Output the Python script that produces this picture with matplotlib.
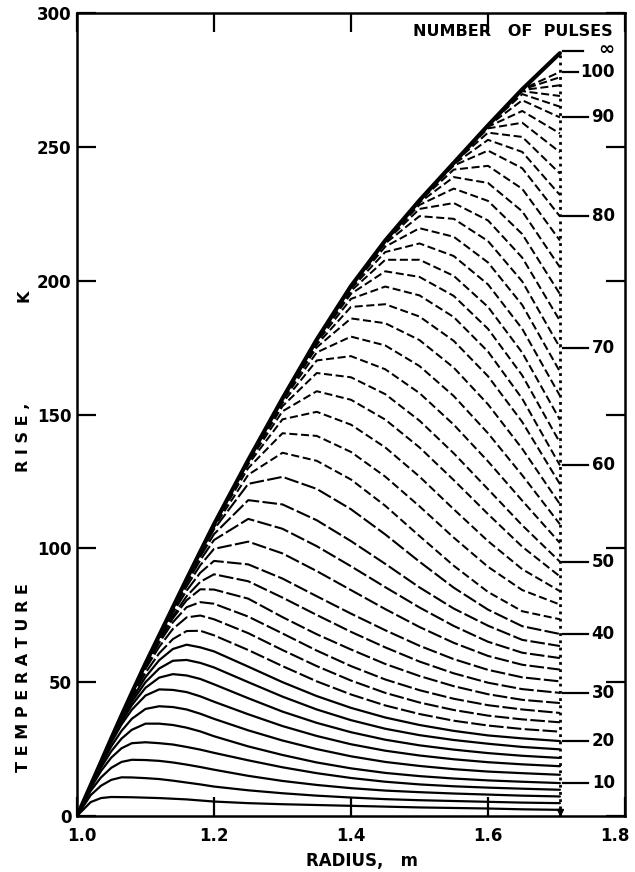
import matplotlib
matplotlib.use("Agg")
import matplotlib.pyplot as plt
import matplotlib.transforms as mtransforms

plt.rcParams['font.family'] = ['DejaVu Sans']
plt.rcParams['font.weight'] = 'bold'

# ---------------- data ----------------
# radii (m) at which each curve was read off the picture
RADIUS = [1.00, 1.02, 1.035, 1.05, 1.065, 1.08, 1.10, 1.12, 1.14, 1.16, 1.18,
          1.20, 1.25, 1.30, 1.35, 1.40, 1.45, 1.50, 1.55, 1.60, 1.65, 1.705]

# steady-state (infinite number of pulses) temperature rise, K
ENVELOPE = [0, 11.5, 20.2, 29, 37.6, 46, 57.0, 67.5, 78.0, 88.5, 98.8,
            109, 133, 156, 178, 198, 215, 230, 244, 258, 271.5, 285]

PULSES = [2, 4, 6, 8, 10, 12, 14, 16, 18, 20, 22, 24, 26, 28, 30, 32, 34, 36,
          38, 40, 42, 44, 46, 48, 50, 52, 54, 56, 58, 60, 62, 64, 66, 68, 70,
          72, 74, 76, 78, 80, 82, 84, 86, 88, 90, 92, 94, 96, 98, 100]

# temperature rise (K) of each curve at the radii above
CURVES = [
    [0, 5.2, 6.7, 7.1, 7.05, 7.0, 6.85, 6.7, 6.45, 6.2, 5.8, 5.4, 4.8, 4.4, 4.1, 3.8, 3.5, 3.2, 3.0, 2.8, 2.5, 2.3],
    [0, 7.8, 11.3, 13.5, 14.45, 14.4, 14.15, 13.8, 13.2, 12.5, 11.8, 11.0, 9.6, 8.5, 7.6, 6.9, 6.3, 5.9, 5.6, 5.3, 5.0, 4.8],
    [0, 9.4, 14.4, 18.0, 20.2, 21.0, 20.9, 20.6, 20.0, 19.2, 18.3, 17.3, 15.0, 13.1, 11.6, 10.4, 9.5, 8.9, 8.4, 8.0, 7.6, 7.3],
    [0, 10.4, 16.8, 21.8, 25.3, 27.2, 27.55, 27.2, 26.7, 25.8, 24.8, 23.6, 20.8, 18.2, 16.0, 14.2, 12.8, 11.8, 11.1, 10.6, 10.2, 9.8],
    [0, 10.9, 18.1, 24.2, 28.9, 32.2, 34.5, 34.5, 34.0, 33.0, 31.6, 29.8, 26.0, 22.8, 20.0, 17.8, 16.1, 14.9, 14.0, 13.3, 12.8, 12.3],
    [0, 11.2, 19.0, 26.0, 31.8, 36.3, 40.0, 41.0, 40.7, 39.8, 38.2, 36.3, 32.0, 28.2, 25.0, 22.3, 20.2, 18.7, 17.5, 16.6, 16.0, 15.4],
    [0, 11.4, 19.65, 27.4, 34.2, 39.7, 45.0, 47.3, 47.1, 46.3, 44.7, 42.7, 38.0, 33.6, 29.9, 26.8, 24.4, 22.6, 21.2, 20.1, 19.3, 18.6],
    [0, 11.4, 19.85, 27.9, 35.2, 41.4, 47.9, 51.7, 53.0, 52.5, 51.2, 49.2, 44.0, 39.0, 34.8, 31.3, 28.5, 26.4, 24.8, 23.5, 22.5, 21.7],
    [0, 11.45, 19.95, 28.2, 35.8, 42.6, 50.0, 55.1, 58.0, 58.3, 57.2, 55.5, 50.0, 44.6, 39.8, 35.8, 32.6, 30.2, 28.4, 27.0, 25.8, 24.9],
    [0, 11.5, 20.05, 28.5, 36.4, 43.6, 51.9, 58.2, 62.4, 64.0, 63.0, 61.5, 55.8, 50.0, 44.8, 40.4, 36.8, 34.0, 31.8, 30.1, 29.0, 28.0],
    [0, 11.5, 20.1, 28.7, 36.9, 44.5, 53.5, 60.8, 66.1, 69.1, 69.2, 67.5, 62.0, 56.0, 50.3, 45.4, 41.3, 38.1, 35.6, 33.8, 32.5, 31.5],
    [0, 11.5, 20.15, 28.9, 37.3, 45.2, 55.0, 63.2, 69.9, 74.2, 74.9, 73.5, 68.3, 62.0, 56.0, 50.6, 46.0, 42.4, 39.6, 37.5, 36.1, 35.0],
    [0, 11.5, 20.2, 29.0, 37.45, 45.6, 55.8, 64.7, 72.4, 78.0, 79.9, 79.3, 74.5, 68.2, 61.8, 56.0, 51.0, 47.0, 43.8, 41.4, 39.8, 38.5],
    [0, 11.5, 20.2, 29.0, 37.5, 45.7, 56.2, 65.6, 73.9, 80.6, 84.7, 84.6, 81.2, 74.3, 67.9, 62.2, 56.8, 52.3, 48.5, 45.5, 43.4, 42.2],
    [0, 11.5, 20.2, 29.0, 37.5, 45.8, 56.3, 65.9, 74.6, 82.1, 87.5, 90.3, 87.7, 81.6, 75.1, 68.8, 63.0, 57.7, 53.3, 49.8, 47.4, 46.0],
    [0, 11.5, 20.2, 29.0, 37.5, 46.0, 56.6, 66.5, 75.9, 84.2, 90.9, 95.3, 94.0, 88.7, 82.1, 75.6, 69.4, 63.6, 58.6, 54.6, 51.8, 50.3],
    [0, 11.5, 20.2, 29.0, 37.55, 46.0, 56.8, 67.0, 76.7, 85.8, 93.7, 99.8, 102.5, 98.1, 91.5, 84.4, 77.3, 70.6, 64.7, 59.8, 56.5, 54.7],
    [0, 11.5, 20.2, 29.0, 37.6, 46.0, 56.9, 67.2, 77.3, 86.9, 95.6, 103.1, 111.0, 107.3, 100.8, 93.3, 85.5, 77.9, 71.0, 65.1, 61.0, 59.0],
    [0, 11.5, 20.2, 29.0, 37.6, 46.0, 57.0, 67.4, 77.6, 87.6, 96.9, 105.3, 118.0, 116.4, 110.5, 102.7, 94.2, 85.4, 77.5, 71.1, 65.8, 63.5],
    [0, 11.5, 20.2, 29.0, 37.6, 46.0, 57.0, 67.4, 77.8, 88.1, 97.8, 107.1, 124.1, 126.7, 122.2, 114.6, 105.2, 95.0, 85.3, 77.1, 70.9, 68.0],
    [0, 11.5, 20.2, 29.0, 37.6, 46.0, 57.0, 67.5, 77.9, 88.3, 98.3, 107.9, 127.5, 135.7, 132.7, 125.7, 115.9, 104.6, 93.5, 83.7, 76.5, 73.5],
    [0, 11.5, 20.2, 29.0, 37.6, 46.0, 57.0, 67.5, 78.0, 88.4, 98.6, 108.5, 130.0, 143.0, 142.0, 136.0, 126.8, 115.7, 104.0, 93.1, 84.4, 79.0],
    [0, 11.5, 20.2, 29.0, 37.6, 46.0, 57.0, 67.5, 78.0, 88.5, 98.7, 108.8, 131.4, 148.2, 151.0, 146.2, 137.7, 126.8, 114.6, 102.7, 92.2, 84.0],
    [0, 11.5, 20.2, 29.0, 37.6, 46.0, 57.0, 67.5, 78.0, 88.5, 98.8, 109.0, 132.1, 151.2, 158.7, 155.5, 148.1, 137.7, 125.5, 112.8, 100.6, 89.5],
    [0, 11.5, 20.2, 29.0, 37.6, 46.0, 57.0, 67.5, 78.0, 88.5, 98.8, 109.0, 132.5, 153.1, 165.5, 163.9, 157.6, 147.7, 135.5, 122.1, 108.6, 95.0],
    [0, 11.5, 20.2, 29.0, 37.6, 46.0, 57.0, 67.5, 78.0, 88.5, 98.8, 109.0, 133.0, 154.3, 170.2, 171.8, 166.9, 158.0, 146.2, 132.5, 117.8, 102.0],
    [0, 11.5, 20.2, 29.0, 37.6, 46.0, 57.0, 67.5, 78.0, 88.5, 98.8, 109.0, 133.0, 155.1, 173.2, 179.1, 175.8, 168.1, 156.9, 143.0, 127.3, 109.0],
    [0, 11.5, 20.2, 29.0, 37.6, 46.0, 57.0, 67.5, 78.0, 88.5, 98.8, 109.0, 133.0, 155.5, 175.1, 185.9, 184.1, 177.8, 167.5, 153.8, 137.2, 116.5],
    [0, 11.5, 20.2, 29.0, 37.6, 46.0, 57.0, 67.5, 78.0, 88.5, 98.8, 109.0, 133.0, 155.8, 176.1, 190.2, 191.2, 186.6, 177.5, 164.3, 147.2, 124.0],
    [0, 11.5, 20.2, 29.0, 37.6, 46.0, 57.0, 67.5, 78.0, 88.5, 98.8, 109.0, 133.0, 156.0, 176.9, 193.2, 197.8, 194.5, 186.4, 173.5, 155.9, 131.0],
    [0, 11.5, 20.2, 29.0, 37.6, 46.0, 57.0, 67.5, 78.0, 88.5, 98.8, 109.0, 133.0, 156.0, 177.4, 195.1, 203.5, 201.4, 194.3, 182.0, 164.6, 139.5],
    [0, 11.5, 20.2, 29.0, 37.6, 46.0, 57.0, 67.5, 78.0, 88.5, 98.8, 109.0, 133.0, 156.0, 177.8, 196.2, 207.8, 207.8, 201.8, 190.2, 173.1, 148.0],
    [0, 11.5, 20.2, 29.0, 37.6, 46.0, 57.0, 67.5, 78.0, 88.5, 98.8, 109.0, 133.0, 156.0, 178.0, 197.0, 210.7, 213.9, 209.2, 198.6, 182.0, 157.0],
    [0, 11.5, 20.2, 29.0, 37.6, 46.0, 57.0, 67.5, 78.0, 88.5, 98.8, 109.0, 133.0, 156.0, 178.0, 197.6, 212.7, 219.6, 216.4, 206.8, 190.9, 166.0],
    [0, 11.5, 20.2, 29.0, 37.6, 46.0, 57.0, 67.5, 78.0, 88.5, 98.8, 109.0, 133.0, 156.0, 178.0, 197.9, 213.9, 224.1, 223.1, 214.8, 199.7, 175.0],
    [0, 11.5, 20.2, 29.0, 37.6, 46.0, 57.0, 67.5, 78.0, 88.5, 98.8, 109.0, 133.0, 156.0, 178.0, 198.0, 214.5, 226.8, 229.0, 222.5, 208.6, 185.0],
    [0, 11.5, 20.2, 29.0, 37.6, 46.0, 57.0, 67.5, 78.0, 88.5, 98.8, 109.0, 133.0, 156.0, 178.0, 198.0, 214.8, 228.3, 234.4, 229.8, 217.4, 195.0],
    [0, 11.5, 20.2, 29.0, 37.6, 46.0, 57.0, 67.5, 78.0, 88.5, 98.8, 109.0, 133.0, 156.0, 178.0, 198.0, 215.0, 229.2, 238.7, 236.5, 225.9, 205.0],
    [0, 11.5, 20.2, 29.0, 37.6, 46.0, 57.0, 67.5, 78.0, 88.5, 98.8, 109.0, 133.0, 156.0, 178.0, 198.0, 215.0, 229.7, 241.5, 242.9, 234.3, 215.0],
    [0, 11.5, 20.2, 29.0, 37.6, 46.0, 57.0, 67.5, 78.0, 88.5, 98.8, 109.0, 133.0, 156.0, 178.0, 198.0, 215.0, 229.9, 243.0, 248.6, 242.0, 224.0],
    [0, 11.5, 20.2, 29.0, 37.6, 46.0, 57.0, 67.5, 78.0, 88.5, 98.8, 109.0, 133.0, 156.0, 178.0, 198.0, 215.0, 230.0, 243.5, 252.6, 248.1, 232.0],
    [0, 11.5, 20.2, 29.0, 37.6, 46.0, 57.0, 67.5, 78.0, 88.5, 98.8, 109.0, 133.0, 156.0, 178.0, 198.0, 215.0, 230.0, 244.0, 255.3, 253.7, 240.0],
    [0, 11.5, 20.2, 29.0, 37.6, 46.0, 57.0, 67.5, 78.0, 88.5, 98.8, 109.0, 133.0, 156.0, 178.0, 198.0, 215.0, 230.0, 244.0, 256.9, 259.0, 248.0],
    [0, 11.5, 20.2, 29.0, 37.6, 46.0, 57.0, 67.5, 78.0, 88.5, 98.8, 109.0, 133.0, 156.0, 178.0, 198.0, 215.0, 230.0, 244.0, 257.5, 263.4, 255.0],
    [0, 11.5, 20.2, 29.0, 37.6, 46.0, 57.0, 67.5, 78.0, 88.5, 98.8, 109.0, 133.0, 156.0, 178.0, 198.0, 215.0, 230.0, 244.0, 257.8, 267.4, 261.0],
    [0, 11.5, 20.2, 29.0, 37.6, 46.0, 57.0, 67.5, 78.0, 88.5, 98.8, 109.0, 133.0, 156.0, 178.0, 198.0, 215.0, 230.0, 244.0, 258.0, 269.7, 265.0],
    [0, 11.5, 20.2, 29.0, 37.6, 46.0, 57.0, 67.5, 78.0, 88.5, 98.8, 109.0, 133.0, 156.0, 178.0, 198.0, 215.0, 230.0, 244.0, 258.0, 270.8, 269.0],
    [0, 11.5, 20.2, 29.0, 37.6, 46.0, 57.0, 67.5, 78.0, 88.5, 98.8, 109.0, 133.0, 156.0, 178.0, 198.0, 215.0, 230.0, 244.0, 258.0, 271.2, 273.0],
    [0, 11.5, 20.2, 29.0, 37.6, 46.0, 57.0, 67.5, 78.0, 88.5, 98.8, 109.0, 133.0, 156.0, 178.0, 198.0, 215.0, 230.0, 244.0, 258.0, 271.4, 276.0],
    [0, 11.5, 20.2, 29.0, 37.6, 46.0, 57.0, 67.5, 78.0, 88.5, 98.8, 109.0, 133.0, 156.0, 178.0, 198.0, 215.0, 230.0, 244.0, 258.0, 271.5, 278.0],
]

# secondary "number of pulses" scale on the right (label, temperature at outer radius)
PULSE_LABELS = ["\u221e", "100", "90", "80", "70", "60", "50", "40", "30", "20", "10"]
PULSE_LABEL_T = [285.8, 278, 261, 224, 175, 131, 95, 68, 46, 28, 12.3]

OUTER_RADIUS = 1.705
X_TICKS = [1.0, 1.2, 1.4, 1.6, 1.8]
X_TICK_LABELS = ["1.0", "1.2", "1.4", "1.6", "1.8"]
Y_TICKS = [0, 50, 100, 150, 200, 250, 300]
Y_TICK_LABELS = ["0", "50", "100", "150", "200", "250", "300"]

# ---------------- figure ----------------
W, H = 635, 872
fig = plt.figure(figsize=(W / 100, H / 100), dpi=100)
ax = fig.add_axes([77 / W, 1 - 816 / H, 548 / W, 803 / H])

for n, row in zip(PULSES, CURVES):
    if n <= 20:
        ax.plot(RADIUS, row, color="black", lw=1.6, solid_capstyle="round",
                solid_joinstyle="round")
    elif n <= 40:
        ax.plot(RADIUS, row, color="black", lw=1.5, linestyle=(0, (7, 1.6)))
    else:
        ax.plot(RADIUS, row, color="black", lw=1.45, linestyle=(0, (4, 1.8)))

ax.plot(RADIUS, ENVELOPE, color="black", lw=3.0, solid_capstyle="round",
        solid_joinstyle="round")

# outer boundary (end of all curves)
ax.plot([OUTER_RADIUS, OUTER_RADIUS], [0, ENVELOPE[-1]], color="black",
        lw=2.0, linestyle=(0, (1, 1.6)))
ax.plot([OUTER_RADIUS], [1.5], marker="v", color="black", ms=5)

# right-hand pulse scale
label_right = 1.785
for lab, t in zip(PULSE_LABELS, PULSE_LABEL_T):
    if lab == "\u221e":
        fs, dash_end, tt = 14, 1.738, t + 0.5
    elif len(lab) == 3:
        fs, dash_end, tt = 12, 1.732, t
    else:
        fs, dash_end, tt = 12, 1.746, t
    ax.plot([1.709, dash_end], [t, t], color="black", lw=1.6)
    ax.text(label_right, tt, lab, ha="right", va="center", fontsize=fs,
            color="black")

ax.text(1.782, 293.2, "NUMBER   OF  PULSES", ha="right", va="center",
        fontsize=11.5, color="black")

ax.set_xlim(1.0, 1.8)
ax.set_ylim(0, 300)
ax.set_xticks(X_TICKS)
ax.set_xticklabels(X_TICK_LABELS)
ax.set_yticks(Y_TICKS)
ax.set_yticklabels(Y_TICK_LABELS)
ax.tick_params(axis="both", direction="in", length=14, width=1.6,
               top=True, right=True, labelsize=12, colors="black")
ax.tick_params(axis="x", pad=8)
ax.tick_params(axis="y", pad=4)
for s in ax.spines.values():
    s.set_linewidth(1.8)
    s.set_color("black")

xl = ax.get_xticklabels()
xl[0].set_transform(xl[0].get_transform() +
                    mtransforms.ScaledTranslation(0.05, 0, fig.dpi_scale_trans))
xl[-1].set_transform(xl[-1].get_transform() +
                     mtransforms.ScaledTranslation(-0.10, 0, fig.dpi_scale_trans))

fig.text(362 / W, 1 - 861 / H, "RADIUS,   m", ha="center", va="center",
         fontsize=12)
fig.text(24 / W, 1 - 678 / H, "T E M P E R A T U R E", ha="center", va="center",
         rotation=90, fontsize=11.5)
fig.text(24 / W, 1 - 437 / H, "R I S E ,", ha="center", va="center",
         rotation=90, fontsize=11.5)
fig.text(24 / W, 1 - 296 / H, "K", ha="center", va="center",
         rotation=90, fontsize=11.5)

fig.savefig("out.png", dpi=100, facecolor="white")
